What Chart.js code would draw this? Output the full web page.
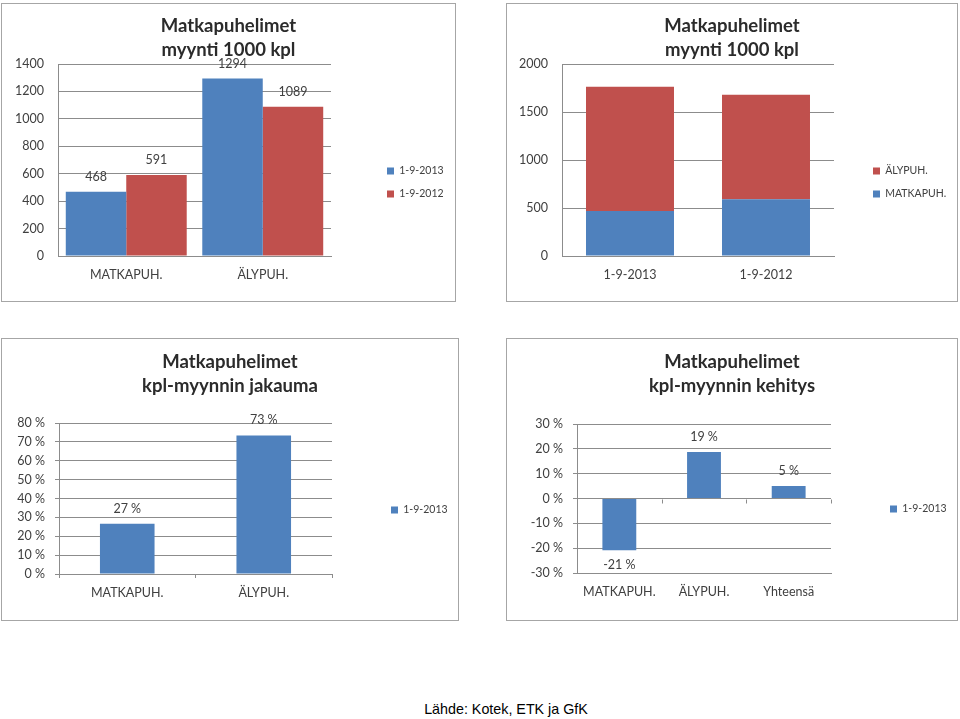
<!DOCTYPE html>
<html>
<head>
<meta charset="utf-8">
<script src="https://cdn.jsdelivr.net/npm/chart.js@4.4.0/dist/chart.umd.min.js"></script>
<style>
  html, body { margin: 0; padding: 0; background: #fff; overflow: hidden; }
  #page { position: relative; width: 960px; height: 719px; }
  .box { position: absolute; border: 1px solid #a6a6a6; }
  .box canvas { display: block; }
  #source {
    position: absolute; left: 406px; top: 700px; width: 200px;
    text-align: center; line-height: 18px;
    font-family: 'Liberation Sans', Arial, sans-serif; font-size: 14.3px; color: #000;
  }
</style>
</head>
<body>
<div id="page">
  <div class="box" style="left:1px;top:3px;"><canvas id="sales-chart" width="453" height="297"></canvas></div>
  <div class="box" style="left:506px;top:3px;"><canvas id="stack-chart" width="450" height="297"></canvas></div>
  <div class="box" style="left:1px;top:338px;"><canvas id="share-chart" width="456" height="281"></canvas></div>
  <div class="box" style="left:506px;top:338px;"><canvas id="change-chart" width="450" height="281"></canvas></div>
  <div id="source">Lähde: Kotek, ETK ja GfK</div>
</div>

<script>
// Data
const phoneTypes = ['MATKAPUH.', 'ÄLYPUH.'];
const dates = ['1-9-2013', '1-9-2012'];
const sales2013 = [468, 1294];
const sales2012 = [591, 1089];
const basicByDate = [468, 591];
const smartByDate = [1294, 1089];
const share2013 = [26.6, 73.4];
const changeTypes = ['MATKAPUH.', 'ÄLYPUH.', 'Yhteensä'];
const change2013 = [-20.8, 18.7, 5.0];

const salesTitle = ['Matkapuhelimet', 'myynti 1000 kpl'];
const shareTitle = ['Matkapuhelimet', 'kpl-myynnin jakauma'];
const changeTitle = ['Matkapuhelimet', 'kpl-myynnin kehitys'];

// Shared look
const BLUE = '#4f81bd';
const RED = '#c0504d';
const fontFamily = "Lato, 'Open Sans', sans-serif";
const textColor = '#404040';
const titleColor = '#2b2b2b';
const gridColor = '#8c8c8c';
const legendSize = 10.5;
const legendPad = 12.5;

const percent = (v) => `${Math.round(v)} %`;

// Centre the title on the whole box and put the legend at a fixed spot
// (x = left of first box, y = centre of first item)
const placeBlocks = (x, y) => ({
  id: 'placeBlocks',
  afterLayout(chart) {
    const title = chart.titleBlock;
    if (title) {
      title.left = 0;
      title.right = chart.width;
      title.width = chart.width;
    }
    const legend = chart.legend;
    if (!legend) return;
    legend.left = x - legendPad;
    legend.right = legend.left + legend.width;
    legend.top = y - legendPad - legendSize / 2;
    legend.bottom = legend.top + legend.height;
  },
});

// Value above each bar (below it when negative)
const valueLabels = (format) => ({
  id: 'valueLabels',
  afterDatasetsDraw(chart) {
    const { ctx } = chart;
    ctx.save();
    ctx.font = `12.5px ${fontFamily}`;
    ctx.fillStyle = textColor;
    ctx.textAlign = 'center';
    ctx.textBaseline = 'middle';
    chart.data.datasets.forEach((dataset, i) => {
      chart.getDatasetMeta(i).data.forEach((bar, j) => {
        const value = dataset.data[j];
        const y = value < 0 ? bar.y + 15 : bar.y - 15;
        ctx.fillText(format(value), bar.x, y);
      });
    });
    ctx.restore();
  },
});

// Small category tick marks on the zero line
const zeroTicks = {
  id: 'zeroTicks',
  afterDraw(chart) {
    const { ctx, scales } = chart;
    const y0 = Math.round(scales.y.getPixelForValue(0)) + 0.5;
    const n = scales.x.ticks.length;
    const step = (scales.x.right - scales.x.left) / n;
    ctx.save();
    ctx.strokeStyle = gridColor;
    ctx.lineWidth = 1;
    ctx.beginPath();
    for (let i = 1; i <= n; i++) {
      const x = Math.round(scales.x.left + step * i) + 0.5;
      ctx.moveTo(x, y0);
      ctx.lineTo(x, y0 + 4);
    }
    ctx.stroke();
    ctx.restore();
  },
};

const makeChart = (id, setup) => {
  const { area } = setup;
  const canvas = document.getElementById(id);
  return new Chart(canvas, {
    type: 'bar',
    data: {
      labels: setup.labels,
      datasets: setup.datasets.map((d) => ({
        ...d,
        borderWidth: 0,
        categoryPercentage: setup.groupWidth,
        barPercentage: 1,
      })),
    },
    options: {
      responsive: false,
      animation: false,
      events: [],
      layout: { padding: { left: 0, top: 0, bottom: 0, right: area.right } },
      plugins: {
        title: {
          display: true,
          text: setup.title,
          color: titleColor,
          font: { family: fontFamily, size: 18.5, weight: 'bold', lineHeight: '24px' },
          padding: { top: area.titleTop, bottom: area.top - area.titleTop - 48 },
        },
        legend: {
          position: 'chartArea',
          align: 'start',
          reverse: !!setup.reverseLegend,
          labels: {
            color: textColor,
            boxWidth: 7,
            boxHeight: 7,
            padding: legendPad,
            font: { family: fontFamily, size: legendSize },
          },
        },
        tooltip: { enabled: false },
      },
      scales: {
        x: {
          stacked: !!setup.stacked,
          grid: {
            display: !!setup.xTicks,
            drawOnChartArea: false,
            drawTicks: !!setup.xTicks,
            tickLength: 4,
            color: gridColor,
          },
          border: { display: true, color: gridColor },
          ticks: {
            color: textColor,
            padding: setup.xTicks ? 7 : 11,
            font: { family: fontFamily, size: 12.5 },
          },
          afterFit: (scale) => { scale.height = area.bottom; },
        },
        y: {
          stacked: !!setup.stacked,
          min: setup.yMin,
          max: setup.yMax,
          grid: {
            color: gridColor,
            drawTicks: !!setup.yTicks,
            tickLength: 4,
          },
          border: { display: true, color: gridColor },
          ticks: {
            stepSize: setup.yStep,
            color: textColor,
            padding: setup.yTicks ? 10 : 14,
            font: { family: fontFamily, size: 12.5 },
            callback: setup.yFormat || ((v) => v),
          },
          afterFit: (scale) => { scale.width = area.left; },
        },
      },
    },
    plugins: [placeBlocks(setup.legendX, setup.legendY), ...(setup.extra || [])],
  });
};

// Top left: sales by phone type
makeChart('sales-chart', {
  labels: phoneTypes,
  datasets: [
    { label: dates[0], data: sales2013, backgroundColor: BLUE },
    { label: dates[1], data: sales2012, backgroundColor: RED },
  ],
  title: salesTitle,
  groupWidth: 0.886,
  yMin: 0, yMax: 1400, yStep: 200,
  area: { left: 56, top: 60, bottom: 45, right: 124, titleTop: 10 },
  legendX: 385, legendY: 167,
  extra: [valueLabels((v) => v)],
});

// Top right: stacked by date
makeChart('stack-chart', {
  labels: dates,
  datasets: [
    { label: phoneTypes[0], data: basicByDate, backgroundColor: BLUE },
    { label: phoneTypes[1], data: smartByDate, backgroundColor: RED },
  ],
  title: salesTitle,
  stacked: true,
  reverseLegend: true,
  groupWidth: 0.647,
  yMin: 0, yMax: 2000, yStep: 500,
  area: { left: 55, top: 60, bottom: 45, right: 123, titleTop: 10 },
  legendX: 366, legendY: 167,
});

// Bottom left: share of units
makeChart('share-chart', {
  labels: phoneTypes,
  datasets: [{ label: dates[0], data: share2013, backgroundColor: BLUE }],
  title: shareTitle,
  groupWidth: 0.4,
  xTicks: true,
  yTicks: true,
  yMin: 0, yMax: 80, yStep: 10,
  yFormat: (v) => `${v} %`,
  area: { left: 57, top: 84, bottom: 46, right: 126, titleTop: 11 },
  legendX: 389, legendY: 171,
  extra: [valueLabels(percent)],
});

// Bottom right: change in units
makeChart('change-chart', {
  labels: changeTypes,
  datasets: [{ label: dates[0], data: change2013, backgroundColor: BLUE }],
  title: changeTitle,
  groupWidth: 0.4,
  yTicks: true,
  yMin: -30, yMax: 30, yStep: 10,
  yFormat: (v) => `${v} %`,
  area: { left: 70, top: 85, bottom: 47, right: 126, titleTop: 11 },
  legendX: 383, legendY: 170,
  extra: [valueLabels(percent), zeroTicks],
});
</script>
</body>
</html>
